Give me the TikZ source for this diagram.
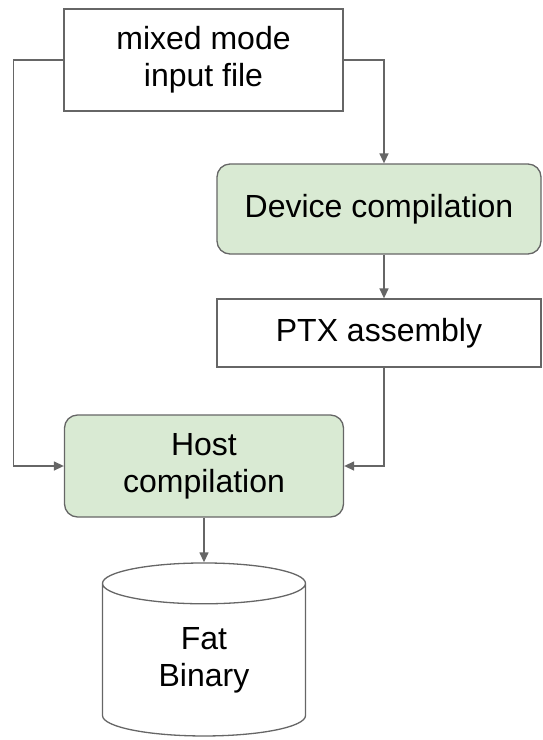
\documentclass[tikz,border=0pt]{standalone}
\usepackage{fontspec}
\setmainfont{Liberation Sans}
\usetikzlibrary{arrows.meta,shapes.geometric}
\definecolor{linegray}{HTML}{666666}
\definecolor{stepgreen}{HTML}{D9EAD3}
\tikzset{
  every node/.style={inner sep=0pt, align=center, font=\fontsize{32}{37}\selectfont},
  plainbox/.style={draw=linegray, line width=1.3pt, rectangle},
  stepbox/.style={plainbox, fill=stepgreen, rounded corners=13pt},
  flow/.style={draw=linegray, line width=1.4pt, -{Triangle[length=10pt,width=9pt]}},
}
\begin{document}
\begin{tikzpicture}[x=1pt,y=-1pt]
\useasboundingbox (0,0) rectangle (543,740);
\node [plainbox, minimum width=279pt, minimum height=102pt] (input) at (203.5,60) {mixed mode\\input file};
\node [stepbox, minimum width=324pt, minimum height=90pt] (device) at (379,209) {Device compilation};
\node [plainbox, minimum width=324pt, minimum height=68pt] (ptx) at (379,333) {PTX assembly};
\node [stepbox, minimum width=279pt, minimum height=102pt] (host) at (204,466) {Host\\compilation};
\node [draw=linegray, line width=1.3pt, cylinder, shape border rotate=90, aspect=0.45,
       minimum width=203pt, minimum height=173pt] (fat) at (204,660) {Fat\\Binary};
\draw [flow] (input.west) -- ++(-50,0) |- (host.west);
\draw [flow] (input.east) -| ([xshift=5pt]device.north);
\draw [flow] ([xshift=5pt]device.south) -- ([xshift=5pt]ptx.north);
\draw [flow] ([xshift=5pt]ptx.south) |- (host.east);
\draw [flow] (host.south) -- (fat.top);
\end{tikzpicture}
\end{document}
